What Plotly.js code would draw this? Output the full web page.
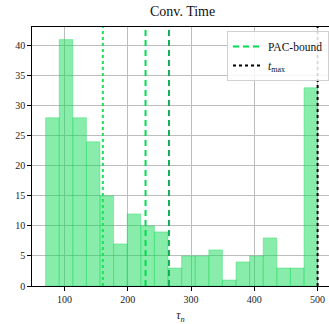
<!DOCTYPE html>
<html><head><meta charset="utf-8">
<script src="https://cdn.plot.ly/plotly-3.0.1.min.js"></script>
<style>html,body{margin:0;padding:0;background:#fff}</style>
</head><body><div id="chart" style="width:329px;height:324px"></div>
<script>
const binLo = 70, binHi = 500;
const counts = [28, 41, 28, 24, 15, 7, 12, 10, 9, 3, 5, 5, 6, 1, 4, 5, 8, 3, 3, 33];
const dottedGreen = 160.5;
const pacBound = 228;
const pacBound2 = 265;
const tMax = 500;
const xTicks = [100, 200, 300, 400, 500];
const yTicks = [0, 5, 10, 15, 20, 25, 30, 35, 40];

const w = (binHi - binLo) / counts.length;
const centers = counts.map((c, i) => binLo + w * (i + 0.5));
const yTop = 43.1;
const font = "Liberation Serif, DejaVu Serif, serif";

const traces = [
  {type: 'bar', x: centers, y: counts, width: w, showlegend: false,
   marker: {color: 'rgba(17,217,85,0.5)', line: {color: 'rgba(17,217,85,0.35)', width: 1}}, hoverinfo: 'none'},
  {type: 'scatter', mode: 'lines', x: [dottedGreen, dottedGreen], y: [0, yTop], showlegend: false,
   line: {color: '#1ee05a', width: 2, dash: 'dot'}},
  {type: 'scatter', mode: 'lines', x: [pacBound, pacBound], y: [0, yTop], name: 'PAC-bound',
   line: {color: '#00dd50', width: 2, dash: '6px,4px'}},
  {type: 'scatter', mode: 'lines', x: [pacBound2, pacBound2], y: [0, yTop], showlegend: false,
   line: {color: '#10b050', width: 2, dash: '6px,4px'}},
  {type: 'scatter', mode: 'lines', x: [tMax, tMax], y: [0, yTop], name: '<i>t</i><sub>max</sub>',
   line: {color: '#000', width: 2, dash: 'dot'}}
];

const layout = {
  width: 329, height: 324,
  margin: {l: 32, r: 0, t: 27, b: 38},
  paper_bgcolor: '#fff', plot_bgcolor: '#fff',
  font: {family: font, size: 10, color: '#222'},
  title: {text: 'Conv. Time', font: {family: font, size: 14, color: '#111'}, x: 0.555, xanchor: 'center', y: 0.98, yanchor: 'top'},
  xaxis: {range: [48.5, 518], tickvals: xTicks, ticktext: xTicks.map(String),
    showgrid: true, gridcolor: '#bdbdbd', gridwidth: 1, zeroline: false,
    showline: true, linecolor: '#000', linewidth: 1.2, mirror: true,
    ticks: 'outside', ticklen: 3.5, tickcolor: '#000',
    title: {text: '<i>τ</i><sub><i>n</i></sub>', font: {family: font, size: 12}, standoff: 9}},
  yaxis: {range: [0, yTop], tickvals: yTicks, ticktext: yTicks.map(String),
    showgrid: true, gridcolor: '#bdbdbd', gridwidth: 1, zeroline: false,
    showline: true, linecolor: '#000', linewidth: 1.2,
    ticks: 'outside', ticklen: 3.5, tickcolor: '#000'},
  legend: {x: 1.0, xanchor: 'right', y: 0.985, yanchor: 'top',
    bgcolor: 'rgba(255,255,255,0.85)', bordercolor: '#d0d0d0', borderwidth: 1,
    font: {family: font, size: 11.5, color: '#111'}, itemwidth: 30, tracegroupgap: 0},
  bargap: 0
};
Plotly.newPlot('chart', traces, layout, {displayModeBar: false, staticPlot: true});
</script></body></html>
